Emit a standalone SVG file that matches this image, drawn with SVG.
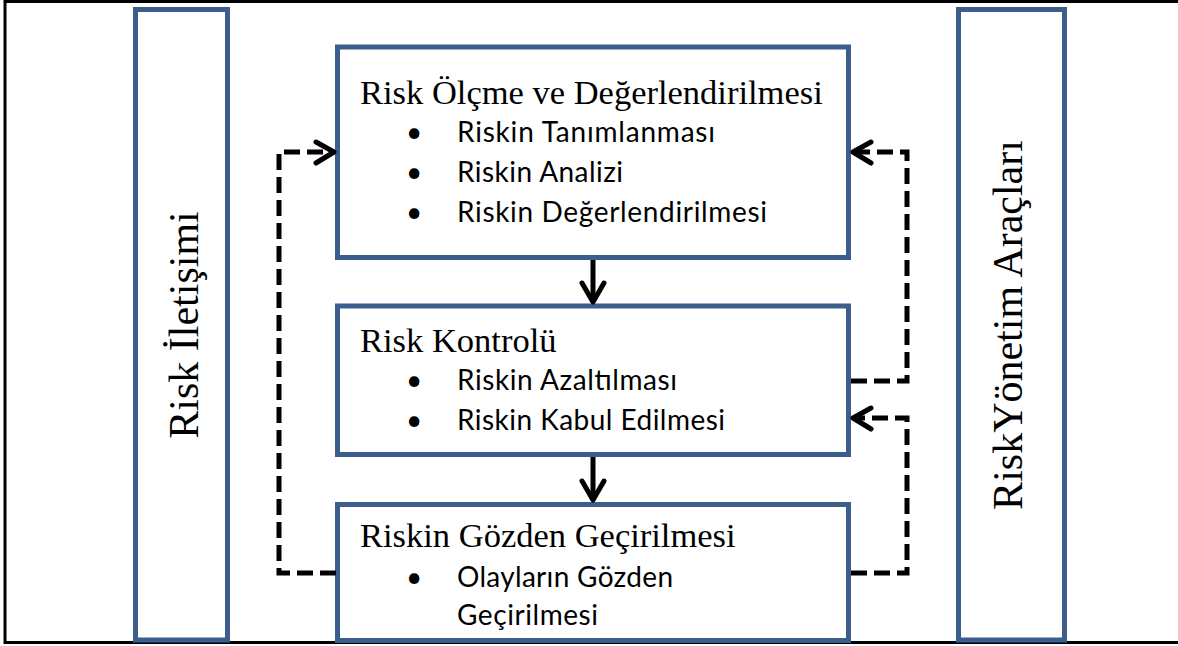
<svg xmlns="http://www.w3.org/2000/svg" width="1178" height="646" viewBox="0 0 1178 646">
<style>
.box{fill:#fff;stroke:#3B5E8C;stroke-width:5}
.title{font-family:"Liberation Serif","Times New Roman",serif;font-size:34.5px;fill:#000}
.vt{font-family:"Liberation Serif","Times New Roman",serif;font-size:42px;fill:#000}
.item{font-family:Lato,"Liberation Sans",sans-serif;font-size:28px;fill:#000}
.dash{fill:none;stroke:#000;stroke-width:5;stroke-dasharray:16 7}
.solid{fill:none;stroke:#000;stroke-width:5}
.head{fill:none;stroke:#000;stroke-width:5;stroke-linecap:round;stroke-linejoin:round}
</style>
<rect x="0" y="0" width="1178" height="646" fill="#fff"/>
<rect x="5" y="1.5" width="1190" height="641" fill="none" stroke="#000" stroke-width="3"/>
<g id="risk-iletisimi">
<rect class="box" x="135.5" y="9.5" width="92" height="630.5"/>
<text class="vt" transform="translate(198,325) rotate(-90)" text-anchor="middle">Risk İletişimi</text>
</g>
<g id="risk-yonetim-araclari">
<rect class="box" x="958.5" y="9.5" width="106" height="630.5"/>
<text class="vt" transform="translate(1022,325) rotate(-90)" text-anchor="middle">RiskYönetim Araçları</text>
</g>
<g id="risk-olcme">
<rect class="box" x="337.5" y="47" width="511" height="210.5"/>
<text class="title" x="360" y="104">Risk Ölçme ve Değerlendirilmesi</text>
<text class="item" x="406" y="142">•</text><text class="item" x="457" y="142" textLength="258" lengthAdjust="spacing">Riskin Tanımlanması</text>
<text class="item" x="406" y="182">•</text><text class="item" x="457" y="182" textLength="166" lengthAdjust="spacing">Riskin Analizi</text>
<text class="item" x="406" y="222">•</text><text class="item" x="457" y="222" textLength="310" lengthAdjust="spacing">Riskin Değerlendirilmesi</text>
</g>
<g id="risk-kontrolu">
<rect class="box" x="337.5" y="306" width="511" height="148.5"/>
<text class="title" x="360" y="352">Risk Kontrolü</text>
<text class="item" x="406" y="390">•</text><text class="item" x="457" y="390" textLength="220" lengthAdjust="spacing">Riskin Azaltılması</text>
<text class="item" x="406" y="430">•</text><text class="item" x="457" y="430" textLength="268" lengthAdjust="spacing">Riskin Kabul Edilmesi</text>
</g>
<g id="riskin-gozden-gecirilmesi">
<rect class="box" x="337.5" y="504.5" width="511" height="136"/>
<text class="title" x="360" y="547">Riskin Gözden Geçirilmesi</text>
<text class="item" x="406" y="587">•</text><text class="item" x="457" y="587" textLength="216" lengthAdjust="spacing">Olayların Gözden</text>
<text class="item" x="457" y="625" textLength="141" lengthAdjust="spacing">Geçirilmesi</text>
</g>
<g id="connectors">
<line class="solid" x1="593" y1="260" x2="593" y2="302"/>
<polyline class="head" points="582,283 593,302 604,283"/>
<line class="solid" x1="593" y1="457" x2="593" y2="500"/>
<polyline class="head" points="582,481 593,500 604,481"/>
<polyline class="dash" points="336,573 279,573 279,152 333,152"/>
<polyline class="head" points="316,142 334,152 316,163"/>
<polyline class="dash" points="851,381 907,381 907,152 855,152"/>
<polyline class="head" points="871,142 853,152 871,163"/>
<polyline class="dash" points="851,573 907,573 907,418 855,418"/>
<polyline class="head" points="871,408 853,418 871,429"/>
</g>
</svg>
